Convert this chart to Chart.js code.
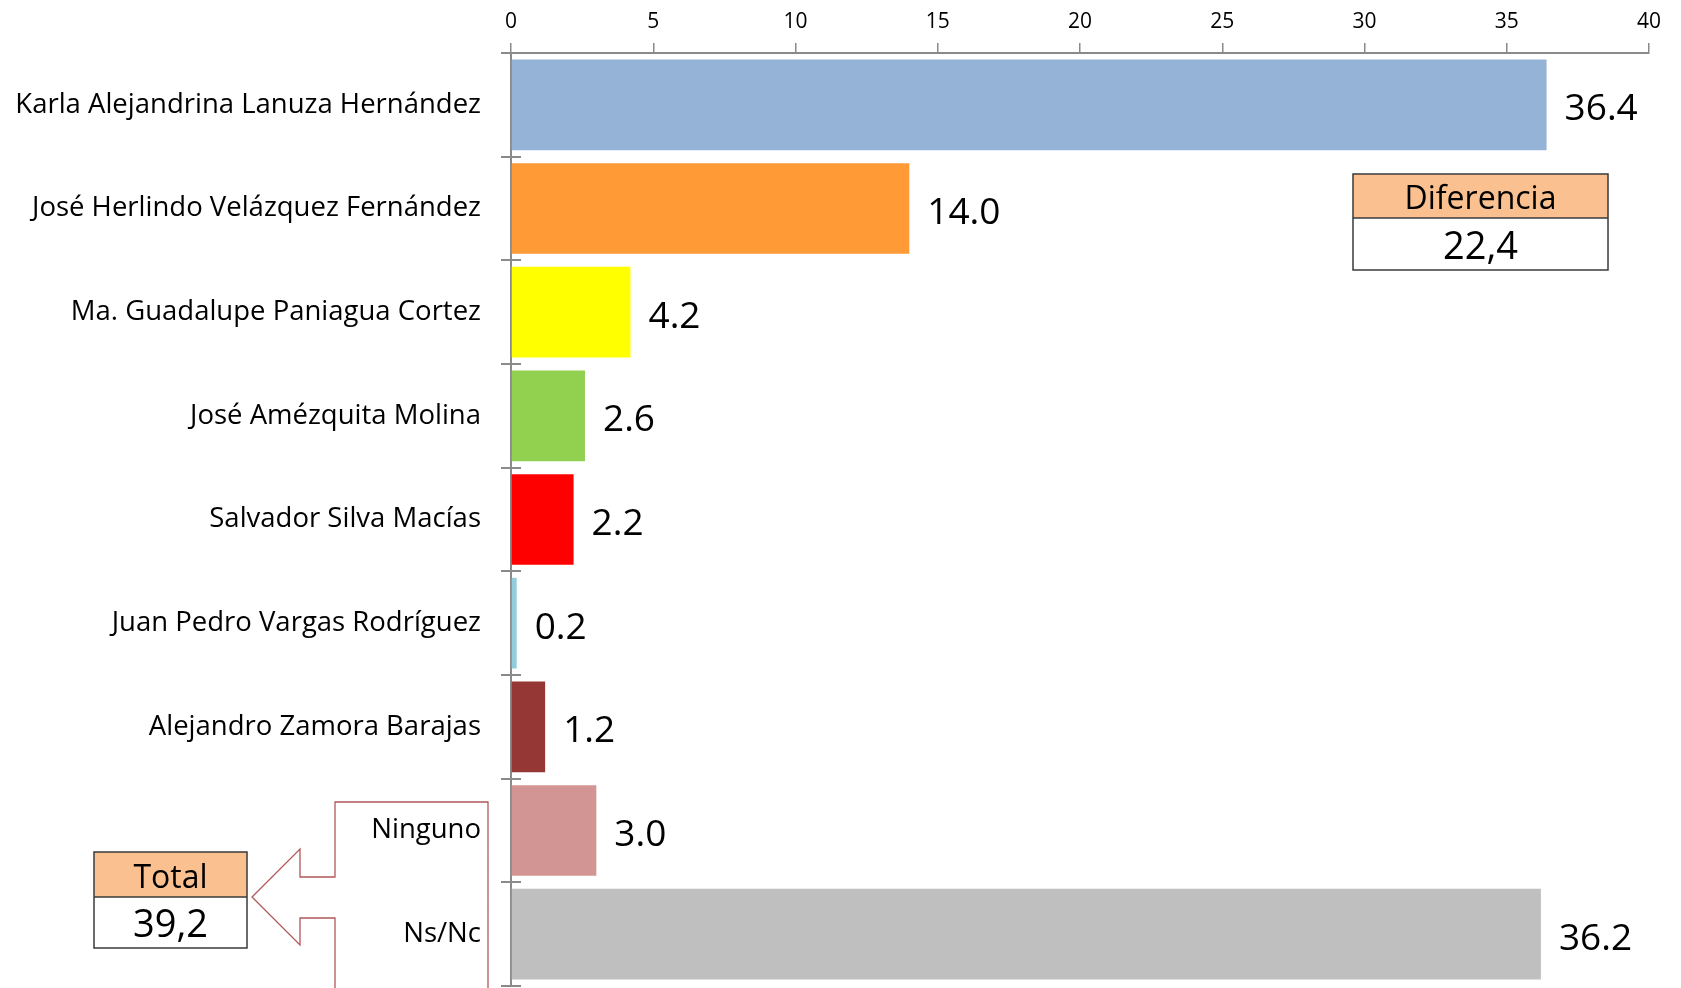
<!DOCTYPE html>
<html>
<head>
<meta charset="utf-8">
<script src="https://cdn.jsdelivr.net/npm/chart.js@4"></script>
<style>
  html, body { margin: 0; padding: 0; background: #fff; }
  #wrap { width: 1681px; height: 988px; position: relative; }
</style>
</head>
<body>
<div id="wrap"><canvas id="votes"></canvas></div>
<script>
// candidates, top to bottom
const categories = [
  'Karla Alejandrina Lanuza Hernández',
  'José Herlindo Velázquez Fernández',
  'Ma. Guadalupe Paniagua Cortez',
  'José Amézquita Molina',
  'Salvador Silva Macías',
  'Juan Pedro Vargas Rodríguez',
  'Alejandro Zamora Barajas',
  'Ninguno',
  'Ns/Nc'
];
const values = [36.4, 14.0, 4.2, 2.6, 2.2, 0.2, 1.2, 3.0, 36.2];
const barColors = ['#95b3d7', '#ff9a36', '#ffff00', '#92d050', '#ff0000', '#92cddc', '#953735', '#d39494', '#bfbfbf'];
const xTicks = [0, 5, 10, 15, 20, 25, 30, 35, 40];
const diffBox = ['Diferencia', '22,4'];
const totalBox = ['Total', '39,2'];

const FONT = '"Open Sans", sans-serif';
const AXIS_GREY = '#8a8a8a';

// value labels at bar ends
const barLabels = {
  id: 'barLabels',
  afterDatasetsDraw(chart) {
    const ctx = chart.ctx;
    const meta = chart.getDatasetMeta(0);
    ctx.save();
    ctx.fillStyle = '#000';
    ctx.font = '37px ' + FONT;
    ctx.textAlign = 'left';
    ctx.textBaseline = 'middle';
    meta.data.forEach((bar, i) => {
      ctx.fillText(values[i].toFixed(1), bar.x + 18, bar.y + 5);
    });
    ctx.restore();
  }
};

// little boxes + the bracket arrow, plus the inner half of the y tick marks
const extras = {
  id: 'extras',
  afterDraw(chart) {
    const ctx = chart.ctx;
    const y = chart.scales.y;
    const x = chart.scales.x;

    // inner part of y ticks (excel draws them crossing the axis)
    const step = (y.bottom - y.top) / categories.length;
    ctx.save();
    ctx.strokeStyle = AXIS_GREY;
    ctx.lineWidth = 2;
    for (let i = 0; i <= categories.length; i++) {
      const py = Math.round(y.top + i * step);
      ctx.beginPath();
      ctx.moveTo(x.left, py);
      ctx.lineTo(x.left + 10, py);
      ctx.stroke();
    }
    ctx.restore();

    function box(bx, by, w, h1, h2, texts) {
      ctx.save();
      ctx.fillStyle = '#fac090';
      ctx.fillRect(bx, by, w, h1);
      ctx.fillStyle = '#fff';
      ctx.fillRect(bx, by + h1, w, h2);
      ctx.strokeStyle = '#3a3a3a';
      ctx.lineWidth = 1.5;
      ctx.strokeRect(bx, by, w, h1 + h2);
      ctx.beginPath();
      ctx.moveTo(bx, by + h1);
      ctx.lineTo(bx + w, by + h1);
      ctx.stroke();
      ctx.fillStyle = '#000';
      ctx.textAlign = 'center';
      ctx.textBaseline = 'middle';
      ctx.font = '32px ' + FONT;
      ctx.fillText(texts[0], bx + w / 2, by + h1 / 2 + 4);
      ctx.font = '38px ' + FONT;
      ctx.fillText(texts[1], bx + w / 2, by + h1 + h2 / 2 + 4);
      ctx.restore();
    }
    box(1353, 174, 255, 44, 52, diffBox);
    box(94, 852, 153, 45, 51, totalBox);

    // bracket arrow around Ninguno / Ns/Nc
    ctx.save();
    ctx.strokeStyle = '#b0575a';
    ctx.lineWidth = 1.3;
    ctx.beginPath();
    ctx.moveTo(488, 992);
    ctx.lineTo(488, 802);
    ctx.lineTo(335, 802);
    ctx.lineTo(335, 877);
    ctx.lineTo(300, 877);
    ctx.lineTo(300, 849);
    ctx.lineTo(252, 897);
    ctx.lineTo(300, 945);
    ctx.lineTo(300, 918);
    ctx.lineTo(335, 918);
    ctx.lineTo(335, 992);
    ctx.stroke();
    ctx.restore();
  }
};

new Chart(document.getElementById('votes'), {
  type: 'bar',
  data: {
    labels: categories,
    datasets: [{
      data: values,
      backgroundColor: barColors,
      borderWidth: 0,
      barPercentage: 0.875,
      categoryPercentage: 1
    }]
  },
  options: {
    indexAxis: 'y',
    responsive: true,
    maintainAspectRatio: false,
    animation: false,
    layout: { padding: { left: 0, right: 32, top: 0, bottom: 2 } },
    plugins: {
      legend: { display: false },
      tooltip: { enabled: false }
    },
    scales: {
      x: {
        position: 'top',
        min: 0,
        max: 40,
        afterBuildTicks: s => { s.ticks = xTicks.map(v => ({ value: v })); },
        afterFit: s => { s.height = 53; },
        ticks: { color: '#000', font: { family: FONT, size: 21 }, padding: 8, maxRotation: 0 },
        grid: { drawOnChartArea: false, color: AXIS_GREY, tickLength: 10, lineWidth: 1.5 },
        border: { color: AXIS_GREY, width: 2 }
      },
      y: {
        afterFit: s => { s.width = 511; s.paddingTop = 0; s.paddingBottom = 0; },
        ticks: { color: '#000', font: { family: FONT, size: 27.5 }, padding: 20 },
        grid: { drawOnChartArea: false, color: AXIS_GREY, tickLength: 10, lineWidth: 2 },
        border: { color: AXIS_GREY, width: 2 }
      }
    }
  },
  plugins: [barLabels, extras]
});
</script>
</body>
</html>
